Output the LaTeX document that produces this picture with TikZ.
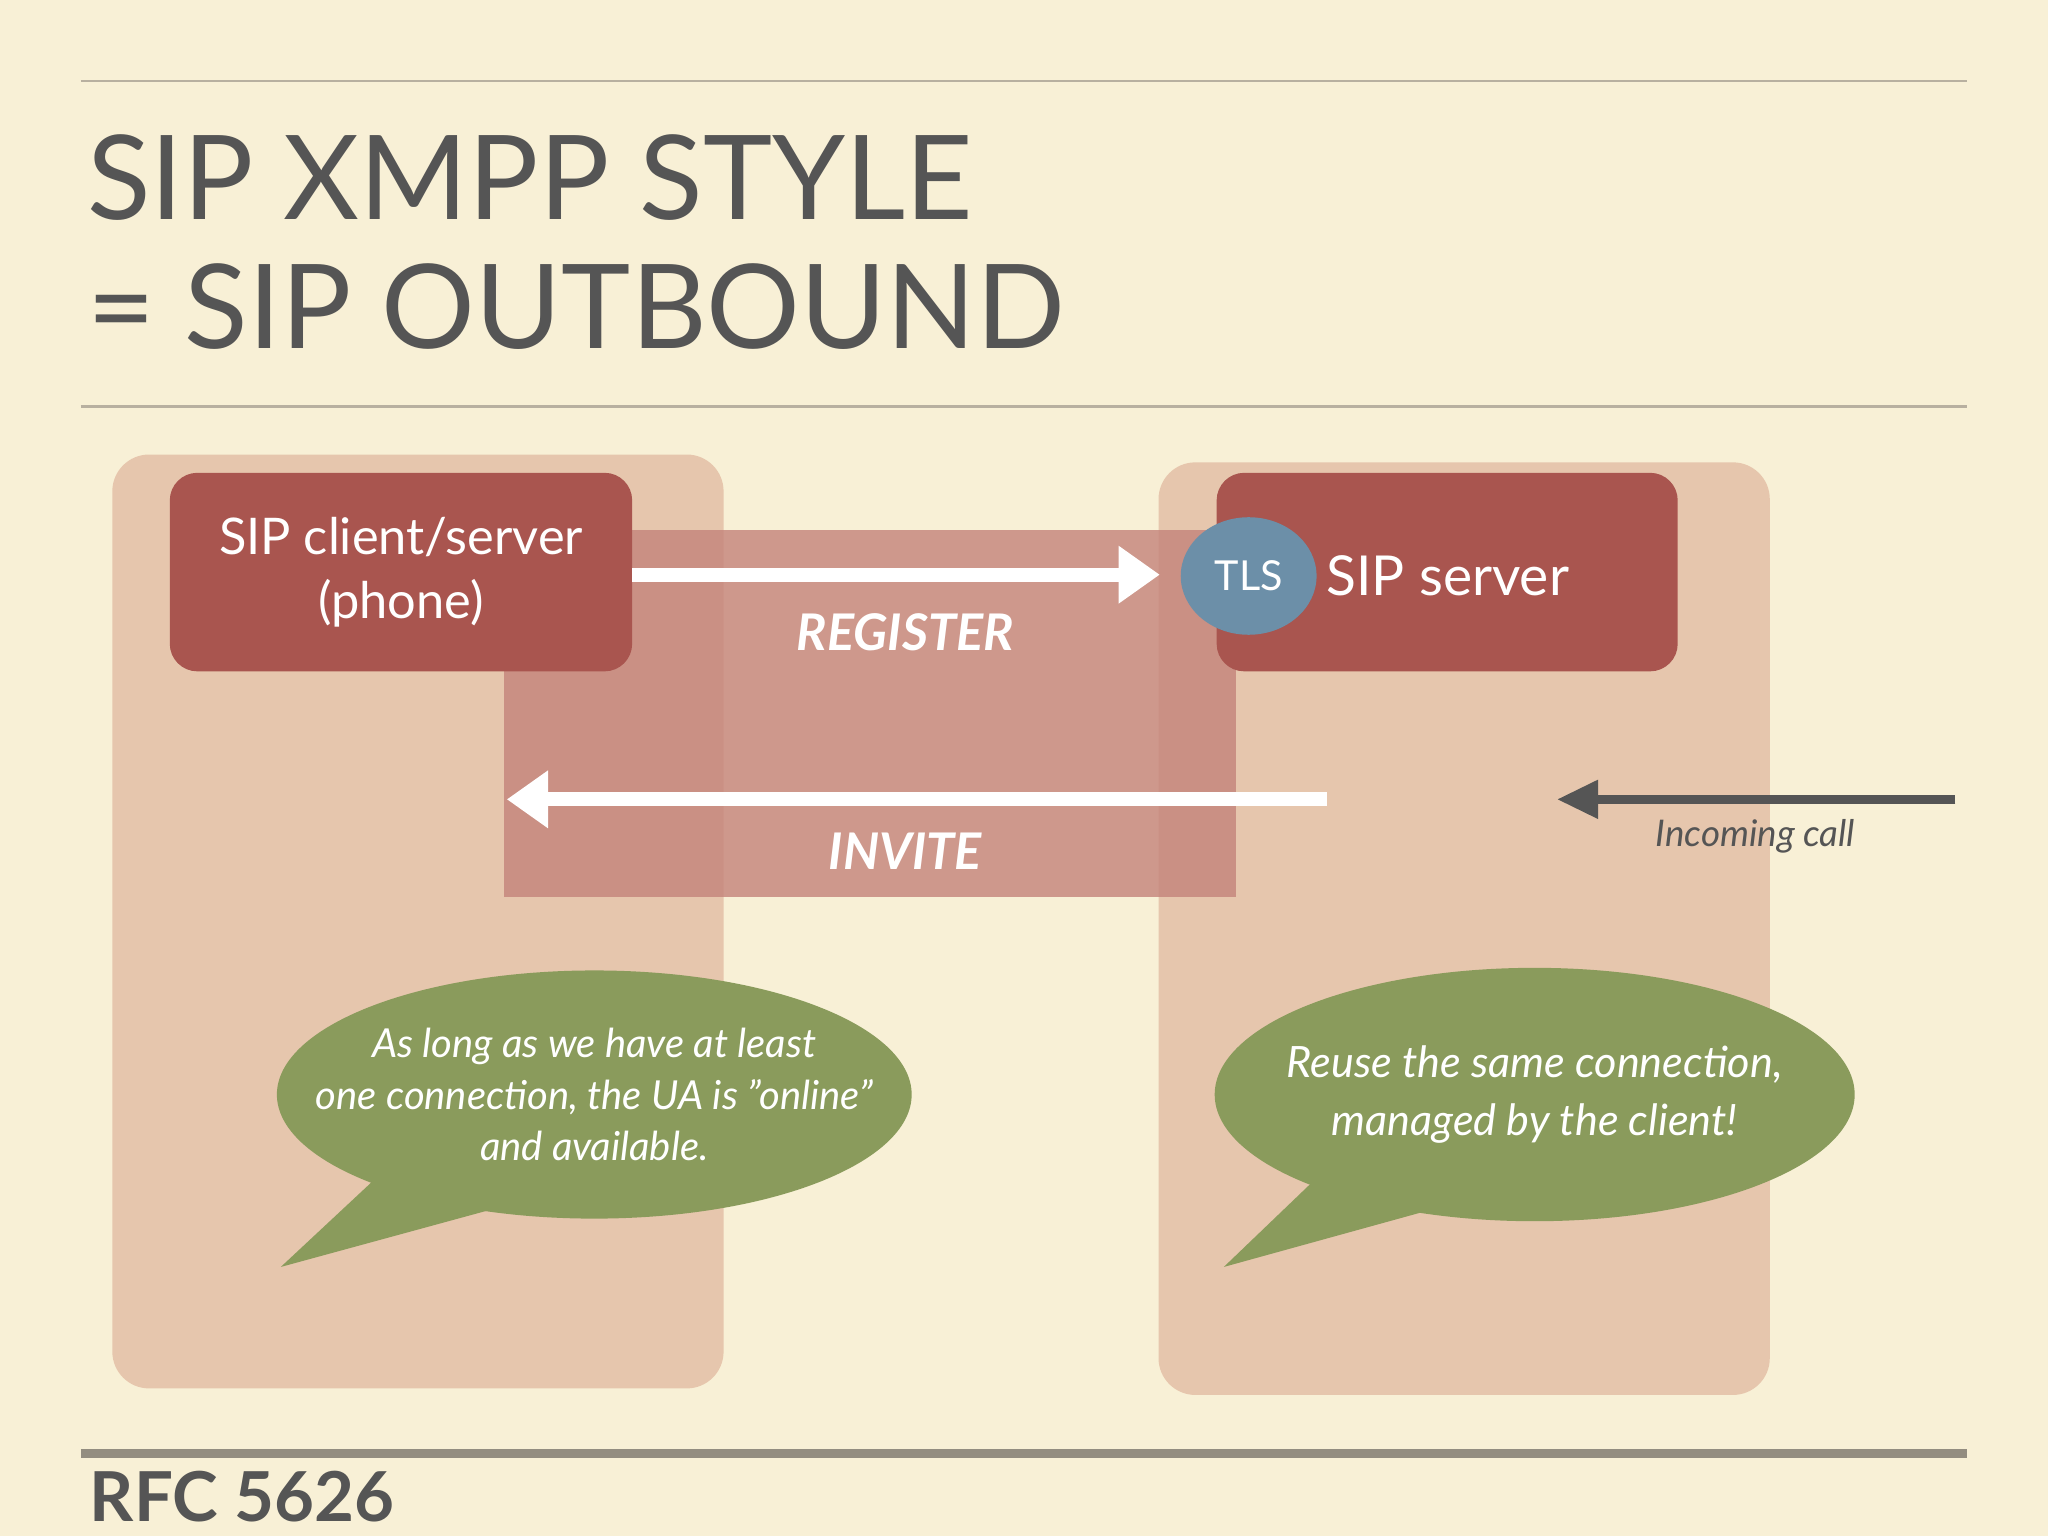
\documentclass[tikz,border=0pt]{standalone}
\usepackage{fontspec}
\setmainfont{Lato}
\usetikzlibrary{arrows.meta,shapes.geometric}
\definecolor{paper}{HTML}{F8F0D6}
\definecolor{rule}{HTML}{B8B0A0}
\definecolor{ink}{HTML}{555555}
\definecolor{panel}{HTML}{E4BFA6}
\definecolor{midbox}{HTML}{C4837A}
\definecolor{boxred}{HTML}{A9554F}
\definecolor{tlsblue}{HTML}{6C8FA8}
\definecolor{bubble}{HTML}{8A9B5C}
\tikzset{
  panel/.style={fill=panel, rounded corners=8pt, draw=none, fill opacity=.85},
  redbox/.style={fill=boxred, rounded corners=6pt, draw=none, text=white, align=center, font=\fontsize{11}{14}\selectfont},
  lbl/.style={text=white, font=\fontsize{11}{13}\selectfont\bfseries\itshape},
  wire/.style={white, line width=3pt, -{Triangle[length=9pt,width=12pt]}},
  saytext/.style={text=white, align=center, font=\fontsize{8.7}{11.2}\selectfont\itshape},
}
\begin{document}
\begin{tikzpicture}[x=0.01cm,y=-0.01cm]
\fill[paper] (0,0) rectangle (1568,1176);
\useasboundingbox (0,0) rectangle (1568,1176);
% rules
\draw[rule, line width=.6pt] (62,62) -- (1506,62);
\draw[rule, line width=.6pt] (62,311) -- (1506,311);
\draw[rule!80!black, line width=2pt] (62,1113) -- (1506,1113);
% title
\node[anchor=base west, text=ink, font=\fontsize{25.5}{30}\selectfont, inner sep=0] (t1) at (66,168) {SIP XMPP STYLE};
\node[anchor=base west, text=ink, font=\fontsize{25.5}{30}\selectfont, inner sep=0] (t2) at (66,267) {= SIP OUTBOUND};
\node[anchor=base west, text=ink, font=\fontsize{15}{18}\selectfont\bfseries, inner sep=0] (rfc) at (68,1165) {RFC 5626};
% panels
\path[panel] (86,348) rectangle (554,1063);
\path[panel] (887,354) rectangle (1355,1068);
\fill[midbox, fill opacity=.8] (386,406) rectangle (946,687);
% boxes
\node[redbox, minimum width=354*0.01cm, minimum height=152*0.01cm] (client) at (307,438) {SIP client/server\\(phone)};
\node[redbox, minimum width=353*0.01cm, minimum height=152*0.01cm] (server) at (1108,438) {};
\node[anchor=west, text=white, font=\fontsize{12}{14}\selectfont, inner sep=0] (srvtext) at (1015,441) {SIP server};
\node[ellipse, fill=tlsblue, minimum width=104*0.01cm, minimum height=90*0.01cm, text=white, font=\fontsize{9}{11}\selectfont, inner sep=0] (tls) at (956,441) {TLS};
% arrows
\coordinate (regA) at (484,440);
\coordinate (regB) at (888,440);
\coordinate (invA) at (1016,612);
\coordinate (invB) at (388,612);
\coordinate (incA) at (1497,612);
\coordinate (incB) at (1192,612);
\draw[wire] (regA) -- (regB);
\draw[wire] (invA) -- (invB);
\draw[ink, line width=2pt, -{Triangle[length=9pt,width=8pt]}] (incA) -- (incB);
\node[lbl] (reg) at (693,484) {REGISTER};
\node[lbl] (inv) at (693,652) {INVITE};
\node[text=ink, font=\fontsize{8}{10}\selectfont\itshape] (inc) at (1344,640) {Incoming call};
% bubbles
\fill[bubble] (290,900) -- (215,970) -- (380,925) -- cycle;
\fill[bubble] (455,838) ellipse [x radius=243, y radius=95];
\node[saytext] (say1) at (455,838) {As long as we have at least\\one connection, the UA is ''online''\\and available.};
\fill[bubble] (1010,900) -- (937,970) -- (1100,925) -- cycle;
\fill[bubble] (1175,838) ellipse [x radius=245, y radius=97];
\node[saytext, font=\fontsize{9.4}{12.5}\selectfont\itshape] (say2) at (1175,838) {Reuse the same connection,\\managed by the client!};
\end{tikzpicture}
\end{document}
